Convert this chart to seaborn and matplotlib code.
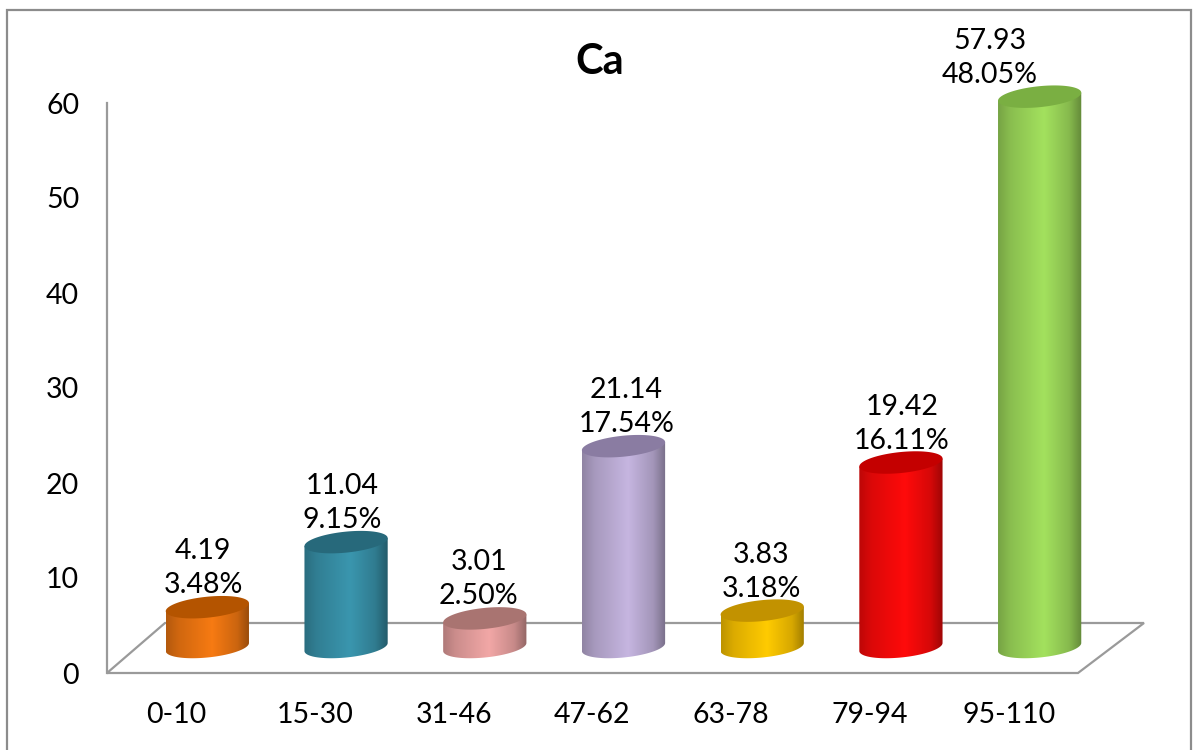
import numpy as np
import matplotlib
matplotlib.use("Agg")
import matplotlib.pyplot as plt
import seaborn as sns
import pandas as pd
from matplotlib.patches import Polygon, Rectangle
from matplotlib.colors import LinearSegmentedColormap, to_rgb

# Calcium by soil depth
depth_ranges = ["0-10", "15-30", "31-46", "47-62", "63-78", "79-94", "95-110"]
ca_values = [4.19, 11.04, 3.01, 21.14, 3.83, 19.42, 57.93]
ca_shares = [3.48, 9.15, 2.50, 17.54, 3.18, 16.11, 48.05]
y_ticks = [0, 10, 20, 30, 40, 50, 60]

# cylinder shading: lit side colour and top face colour
bar_colors = ["#F27812", "#3993AB", "#EDA4A3", "#C2B2DC", "#FFC700", "#FF0A0A", "#A0DD5C"]
top_colors = ["#B45400", "#27697B", "#A97471", "#8A7CA2", "#C29200", "#C40000", "#7AAF42"]

sns.set_theme(style="white")
plt.rcParams["font.family"] = ["Lato", "DejaVu Sans"]
FS = 20.5

W, H = 1193, 750
fig = plt.figure(figsize=(W / 100, H / 100), dpi=100)
fig.patch.set_facecolor("white")

# front plane: value axis, floor edge, category labels
AX_L, AX_B, AX_W, AX_H = 107, 673, 971, 570
ax = fig.add_axes([AX_L / W, (H - AX_B) / H, AX_W / W, AX_H / H])
ax.set_xlim(-0.5, len(depth_ranges) - 0.5)
ax.set_ylim(y_ticks[0], y_ticks[-1])
ax.set_xticks(range(len(depth_ranges)), depth_ranges)
ax.set_yticks(y_ticks, [str(t) for t in y_ticks])
ax.tick_params(axis="y", length=0, pad=20, labelsize=FS, labelcolor="black")
ax.tick_params(axis="x", length=0, pad=21, labelsize=FS, labelcolor="black")
for side in ["top", "right", "bottom"]:
    ax.spines[side].set_visible(False)
ax.spines["left"].set_color("#9A9A9A")
ax.spines["left"].set_linewidth(1.6)
ax.patch.set_alpha(0)

# floor of the 3-D plot area
dlx, drx, dy = 58 / AX_W, 66 / AX_W, 50 / AX_H
floor = Polygon([(0, 0), (1, 0), (1 + drx, dy), (dlx, dy)], closed=True,
                transform=ax.transAxes, facecolor="white", edgecolor="#9A9A9A",
                linewidth=1.6, clip_on=False, zorder=0)
ax.add_patch(floor)

kx = AX_W / len(depth_ranges)          # pixels per category
ky = AX_H / (y_ticks[-1] - y_ticks[0])  # pixels per unit
y_low = -3.0                            # room for the rounded bar bottoms

# bars sit half-way into the depth of the floor
base_px = 647
ax_bar = fig.add_axes([(AX_L + 31) / W, (H - base_px + y_low * ky) / H,
                       AX_W / W, (AX_H - y_low * ky) / H])
df = pd.DataFrame({"depth": depth_ranges, "ca": ca_values})
sns.barplot(data=df, x="depth", y="ca", ax=ax_bar, width=0.6,
            color=bar_colors[0], errorbar=None)
ax_bar.set_xlim(-0.5, len(depth_ranges) - 0.5)
ax_bar.set_ylim(y_low, y_ticks[-1])
ax_bar.set_axis_off()
ax_bar.patch.set_alpha(0)

b = 10.5 / ky                           # ellipse half height
sh = 4 / ky                             # oblique tilt at the rim

label_shift = [-4, -4, -6, 3, -1, 1, -50]

for i, patch in enumerate(list(ax_bar.patches)):
    x0, w, h = patch.get_x(), patch.get_width(), patch.get_height()
    patch.set_visible(False)
    cx, a = x0 + w / 2, w / 2
    base = np.array(to_rgb(bar_colors[i]))

    # cylinder body: straight sides closed by the lower half of the base ellipse
    t = np.linspace(np.pi, 2 * np.pi, 80)
    bottom_arc = np.column_stack([cx + a * np.cos(t), b * np.sin(t) + sh * np.cos(t)])
    body_pts = np.vstack([[cx - a, h - sh], bottom_arc, [cx + a, h + sh]])
    body = Polygon(body_pts, closed=True, transform=ax_bar.transData,
                   facecolor="none", edgecolor="none")
    ax_bar.add_patch(body)

    cmap = LinearSegmentedColormap.from_list(
        f"cyl{i}",
        [(0.0, base * 0.74), (0.15, base * 0.86), (0.55, np.minimum(base * 1.02, 1)),
         (0.85, base * 0.84), (1.0, base * 0.62)])
    grad = np.tile(np.linspace(0, 1, 256), (2, 1))
    im = ax_bar.imshow(grad, cmap=cmap, aspect="auto", origin="lower",
                       extent=(cx - a, cx + a, -b - 1, h + b + 1), zorder=2,
                       interpolation="bilinear")
    im.set_clip_path(body)

    # top face
    tt = np.linspace(0, 2 * np.pi, 160)
    top_pts = np.column_stack([cx + a * np.cos(tt), h + b * np.sin(tt) + sh * np.cos(tt)])
    top = Polygon(top_pts, closed=True, transform=ax_bar.transData,
                  facecolor=top_colors[i], edgecolor="none", zorder=3)
    ax_bar.add_patch(top)

    dx = label_shift[i] * 0.72
    ax_bar.annotate(f"{ca_values[i]:.2f}", xy=(cx, h), xytext=(dx, 56 * 0.72),
                    textcoords="offset points", ha="center", va="center",
                    fontsize=FS, color="black", annotation_clip=False)
    ax_bar.annotate(f"{ca_shares[i]:.2f}%", xy=(cx, h), xytext=(dx, 22 * 0.72),
                    textcoords="offset points", ha="center", va="center",
                    fontsize=FS, color="black", annotation_clip=False)

ax_bar.set_xlim(-0.5, len(depth_ranges) - 0.5)
ax_bar.set_ylim(y_low, y_ticks[-1])

fig.text(600 / W, 1 - 62 / H, "Ca", ha="center", va="center",
         fontsize=30, fontweight="bold", color="black")

# chart area border
fig.add_artist(Rectangle((7 / W, -0.1), (1191 - 7) / W, 1 - 10 / H + 0.1,
                         transform=fig.transFigure, fill=False,
                         edgecolor="#8C8C8C", linewidth=1.6))

fig.savefig("out.png", dpi=100, facecolor="white")
